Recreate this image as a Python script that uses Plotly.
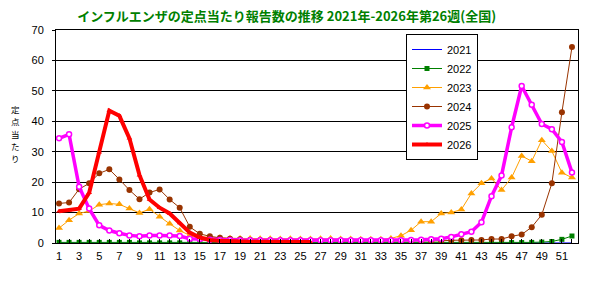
import plotly.graph_objects as go

weeks = list(range(1, 53))

y2021 = [0.02] * 52

y2022 = [0.2, 0.2, 0.2, 0.2, 0.2, 0.2, 0.2, 0.2, 0.05, 0.05,
         0.05, 0.05, 0.05, 0.05, 0.05, 0.05, 0.05, 0.05, 0.05, 0.05,
         0.05, 0.05, 0.05, 0.05, 0.05, 0.05, 0.05, 0.05, 0.05, 0.05,
         0.05, 0.05, 0.05, 0.05, 0.05, 0.05, 0.05, 0.05, 0.1, 0.1,
         0.1, 0.1, 0.1, 0.1, 0.1, 0.15, 0.15, 0.2, 0.3, 0.5,
         1.2, 2.3]

y2023 = [4.9, 7.5, 9.7, 10.5, 12.6, 13.0, 12.7, 11.3, 9.9, 11.1,
         8.6, 6.3, 4.1, 2.5, 2.0, 1.8, 1.7, 1.6, 1.5, 1.5,
         1.4, 1.4, 1.3, 1.4, 1.3, 1.3, 1.4, 1.5, 1.3, 1.3,
         1.2, 1.2, 1.2, 1.5, 2.4, 4.2, 7.0, 7.0, 9.7, 10.0,
         11.0, 16.3, 19.6, 21.2, 17.4, 21.5, 28.6, 26.9, 33.8, 30.2,
         23.1, 21.5]

y2024 = [13.0, 13.3, 17.7, 19.6, 22.9, 24.2, 20.9, 17.4, 14.4, 16.6,
         17.6, 14.3, 11.6, 5.3, 3.0, 2.2, 1.7, 1.4, 1.2, 1.0,
         0.9, 0.9, 0.8, 0.8, 0.8, 0.7, 0.7, 0.7, 0.6, 0.6,
         0.6, 0.6, 0.6, 0.6, 0.6, 0.6, 0.6, 0.6, 0.7, 0.9,
         0.9, 1.0, 1.0, 1.3, 1.3, 2.2, 2.8, 5.2, 9.3, 19.6,
         43.0, 64.4]

y2025 = [34.4, 35.7, 18.5, 11.3, 5.8, 4.1, 3.2, 2.5, 2.2, 2.5,
         2.5, 2.5, 2.3, 1.4, 1.3, 1.1, 1.0, 1.0, 0.9, 0.9,
         0.9, 0.9, 0.9, 0.9, 0.9, 0.9, 0.9, 0.9, 0.9, 0.9,
         0.9, 0.9, 0.9, 0.9, 0.9, 1.0, 1.1, 1.2, 1.4, 2.0,
         2.9, 3.7, 6.8, 15.4, 22.2, 38.0, 51.6, 45.4, 39.1, 37.4,
         33.2, 23.2]

weeks_2026 = list(range(1, 27))
y2026 = [10.4, 10.8, 11.3, 16.5, 29.8, 43.5, 41.8, 34.4, 22.3, 14.3,
         11.6, 9.7, 6.6, 3.4, 1.8, 1.0, 0.7, 0.5, 0.5, 0.4,
         0.4, 0.4, 0.4, 0.3, 0.3, 0.3]

title_text = "インフルエンザの定点当たり報告数の推移 2021年-2026年第26週(全国)"
ylabel_chars = ["定", "点", "当", "た", "り"]

fig = go.Figure()
fig.add_trace(go.Scatter(x=weeks, y=y2021, name="2021", mode="lines",
                         line=dict(color="#0000FF", width=1)))
fig.add_trace(go.Scatter(x=weeks, y=y2022, name="2022", mode="lines+markers",
                         line=dict(color="#008000", width=1),
                         marker=dict(symbol="square", size=5, color="#008000")))
fig.add_trace(go.Scatter(x=weeks, y=y2023, name="2023", mode="lines+markers",
                         line=dict(color="#FFA000", width=1),
                         marker=dict(symbol="triangle-up", size=7, color="#FFA000")))
fig.add_trace(go.Scatter(x=weeks, y=y2024, name="2024", mode="lines+markers",
                         line=dict(color="#993300", width=1),
                         marker=dict(symbol="circle", size=6, color="#993300")))
fig.add_trace(go.Scatter(x=weeks, y=y2025, name="2025", mode="lines+markers",
                         line=dict(color="#FF00FF", width=3.5),
                         marker=dict(symbol="circle", size=5, color="white",
                                     line=dict(color="#FF00FF", width=1.5))))
fig.add_trace(go.Scatter(x=weeks_2026, y=y2026, name="2026", mode="lines+markers",
                         line=dict(color="#FF0000", width=4),
                         marker=dict(symbol="triangle-up", size=5, color="#FF0000")))

fig.update_layout(
    width=601, height=281,
    margin=dict(l=56, r=23, t=30, b=38),
    paper_bgcolor="white", plot_bgcolor="white",
    font=dict(family="Liberation Sans, Arial, sans-serif", size=11, color="black"),
    title=dict(text=title_text, x=0.477, xanchor="center", y=1 - 16 / 281,
               yanchor="middle", yref="container",
               font=dict(family="Noto Sans CJK JP", size=13, color="#008000",
                         weight="bold")),
    legend=dict(x=(406 - 56) / 522, y=(243 - 34) / 213, xanchor="left", yanchor="top",
                bgcolor="white", bordercolor="black", borderwidth=1,
                font=dict(size=11, color="black"), itemwidth=30,
                tracegroupgap=0),
    showlegend=True,
)
fig.update_xaxes(range=[0.7, 52.6], tickmode="linear", tick0=1, dtick=2,
                 ticks="inside", ticklen=4, tickcolor="black",
                 minor=dict(dtick=1, tick0=0, ticks="inside", ticklen=4, tickcolor="black"),
                 showgrid=False, showline=True, linecolor="black", linewidth=1,
                 mirror=True, zeroline=False, ticklabelstandoff=3)
fig.update_yaxes(range=[0, 70], tickmode="linear", tick0=0, dtick=10,
                 ticks="outside", ticklen=3, tickcolor="black",
                 showgrid=True, gridcolor="black", gridwidth=1,
                 showline=True, linecolor="black", linewidth=1, mirror=True,
                 zeroline=False, ticklabelstandoff=6)

char_y = [109.0, 121.3, 133.6, 145.9, 158.2]
for ch, py in zip(ylabel_chars, char_y):
    fig.add_annotation(text=ch, xref="paper", yref="paper",
                       x=-(56 - 15) / 522, y=(243 - py) / 213, xanchor="center",
                       yanchor="middle", showarrow=False,
                       font=dict(family="Noto Sans CJK JP", size=8.5, color="black"))

fig.write_html("out.html")
